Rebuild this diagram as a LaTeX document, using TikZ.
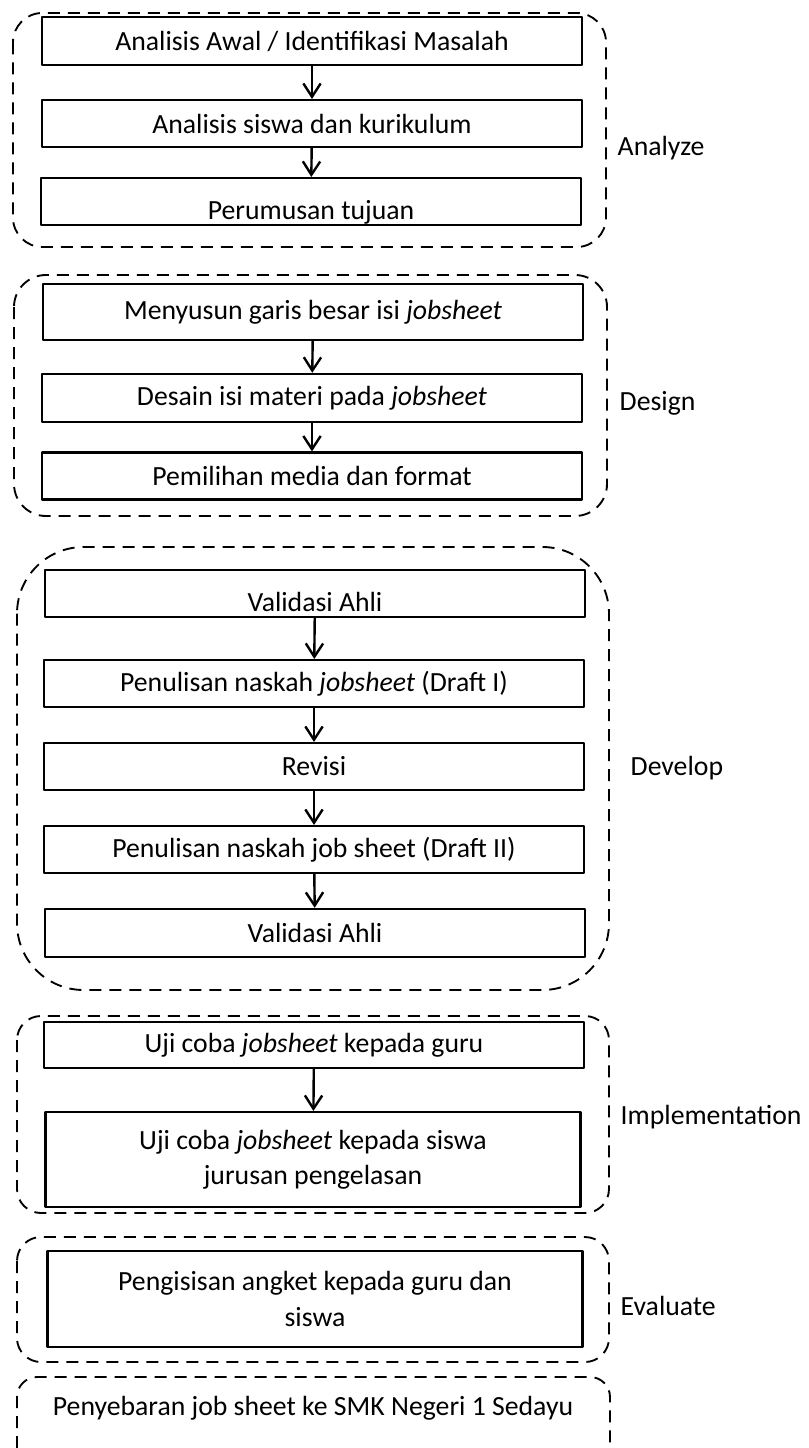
\documentclass[tikz,border=0pt]{standalone}
\usepackage{fontspec}
\setmainfont{Carlito}
\usetikzlibrary{arrows.meta}
\begin{document}
\begin{tikzpicture}[x=0.75pt, y=-0.75pt, line join=round,
  font=\fontsize{20.8}{26.5}\selectfont,
  stage/.style={draw, line width=1.8pt, minimum width=405pt, inner sep=0pt, align=center},
  grp/.style={line width=1.4pt, dash pattern=on 9pt off 6pt},
  flow/.style={line width=1.8pt, -{Straight Barb[length=10pt, width=13pt, line width=1.8pt]}},
  phase/.style={anchor=west}]
\useasboundingbox (0,0) rectangle (808,1448);
% Analyze
\draw[grp, rounded corners=22pt] (13,13) rectangle (606,247);
\node[stage, minimum height=36pt] (a1) at (312,41) {Analisis Awal / Identifikasi Masalah};
\node[stage, minimum height=35pt] (a2) at (312,123.5) {Analisis siswa dan kurikulum};
\node[stage, minimum height=35pt, label={[yshift=-8pt]center:Perumusan tujuan}] (a3) at (311,201.5) {};
\draw[flow] (a1) -- (a2);
\draw[flow] (a2) -- (a3);
\node[phase] (pa) at (613,148) {Analyze};
% Design
\draw[grp, rounded corners=24pt] (14,275) rectangle (607,516);
\node[stage, minimum height=42pt] (d1) at (313,312) {Menyusun garis besar isi \textit{jobsheet}};
\node[stage, minimum height=36pt] (d2) at (312,398) {Desain isi materi pada \textit{jobsheet}};
\node[stage, minimum height=35pt] (d3) at (312,476) {Pemilihan media dan format};
\draw[flow] (d1) -- (d2);
\draw[flow] (d2) -- (d3);
\node[phase] (pd) at (615,403) {Design};
% Develop
\draw[grp, rounded corners=50pt] (17,547) rectangle (609,990);
\node[stage, minimum height=35pt, label={[yshift=-6pt]center:Validasi Ahli}] (v1) at (315,593.5) {};
\node[stage, minimum height=35pt] (v2) at (314,683.5) {Penulisan naskah \textit{jobsheet} (Draft I)};
\node[stage, minimum height=35pt] (v3) at (314,766.5) {Revisi};
\node[stage, minimum height=35pt] (v4) at (314,849.5) {Penulisan naskah job sheet (Draft II)};
\node[stage, minimum height=36pt] (v5) at (315,933) {Validasi Ahli};
\draw[flow] (v1) -- (v2);
\draw[flow] (v2) -- (v3);
\draw[flow] (v3) -- (v4);
\draw[flow] (v4) -- (v5);
\node[phase] (pv) at (626,768) {Develop};
% Implementation
\draw[grp, rounded corners=18pt] (17,1016) rectangle (609,1213);
\node[stage, minimum height=34.5pt] (i1) at (314,1045) {Uji coba \textit{jobsheet} kepada guru};
\node[stage, minimum height=71pt, minimum width=401pt] (i2) at (313,1159.5) {Uji coba \textit{jobsheet} kepada siswa\\jurusan pengelasan};
\draw[flow] (i1) -- (i2);
\node[phase] (pi) at (616,1117) {Implementation};
% Evaluate
\draw[grp, rounded corners=18pt] (17,1237) rectangle (609,1362);
\node[stage, minimum height=72pt, minimum width=401pt] (e1) at (315,1299) {Pengisisan angket kepada guru dan\\siswa};
\node[phase] (pe) at (616,1306) {Evaluate};
% Disseminate
\draw[grp, rounded corners=15pt] (17,1448) -- (17,1377) -- (610,1377) -- (610,1448);
\node (s1) at (313,1408) {Penyebaran job sheet ke SMK Negeri 1 Sedayu};
\end{tikzpicture}
\end{document}
